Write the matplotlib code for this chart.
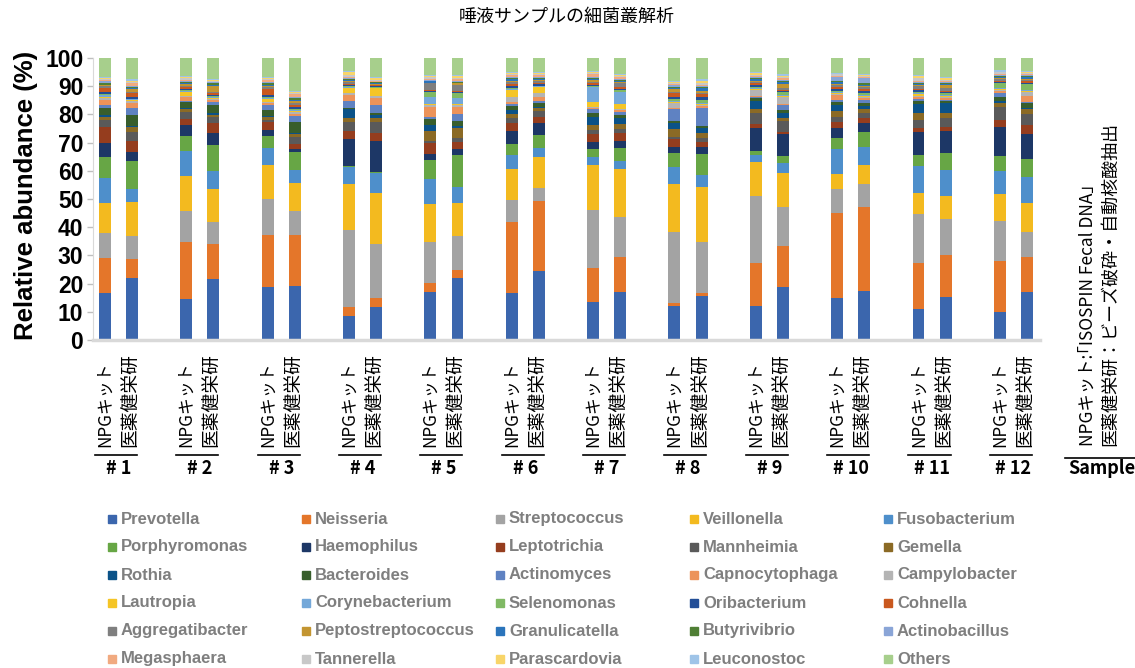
import numpy as np
import matplotlib
matplotlib.use("Agg")
import matplotlib.pyplot as plt
from matplotlib.patches import Rectangle

plt.rcParams['font.family'] = ['Liberation Sans', 'DejaVu Sans']
JP = ['Noto Sans CJK JP', 'DejaVu Sans']

# taxa in legend order (bottom of stack first)
taxa = ['Prevotella', 'Neisseria', 'Streptococcus', 'Veillonella', 'Fusobacterium',
        'Porphyromonas', 'Haemophilus', 'Leptotrichia', 'Mannheimia', 'Gemella',
        'Rothia', 'Bacteroides', 'Actinomyces', 'Capnocytophaga', 'Campylobacter',
        'Lautropia', 'Corynebacterium', 'Selenomonas', 'Oribacterium', 'Cohnella',
        'Aggregatibacter', 'Peptostreptococcus', 'Granulicatella', 'Butyrivibrio', 'Actinobacillus',
        'Megasphaera', 'Tannerella', 'Parascardovia', 'Leuconostoc', 'Others']

colors = ['#3b66ad', '#e4762a', '#a3a3a3', '#f3ba1f', '#4e8fcb',
          '#67a645', '#1d3766', '#953d1e', '#5a5a5a', '#8b6a25',
          '#0b5288', '#385e2c', '#5f82c2', '#ec935a', '#b4b4b4',
          '#f5c526', '#74a8d9', '#80b964', '#224e97', '#c9581e',
          '#7f7f7f', '#c39531', '#2a74bb', '#4f7f35', '#8aa5d7',
          '#f1aa80', '#c8c8c8', '#f8d569', '#9fc4e8', '#a7cf8c']

groups = ['# 1', '# 2', '# 3', '# 4', '# 5', '# 6', '# 7', '# 8', '# 9', '# 10', '# 11', '# 12']
methods = ['NPGキット', '医薬健栄研']

# relative abundance (%) per bar, legend order; "a" = NPGキット, "b" = 医薬健栄研
s1a = [16.8, 12.4, 8.7, 10.6, 8.9, 7.4, 5.2, 5.4, 2.6, 1.2, 0.6, 2.4, 1.0, 2.0, 0.7, 0.4, 0.5, 0.6, 0.5, 1.6, 0.4, 0.4, 0.3, 0.6, 0.5, 0.4, 0.4, 0.3, 0.5, 6.7]
s1b = [22.1, 6.5, 8.4, 12.1, 4.3, 10.1, 3.0, 4.1, 3.3, 1.5, 0.5, 3.9, 2.6, 1.8, 0.5, 0.3, 0.3, 0.3, 0.5, 1.5, 0.5, 0.8, 0.3, 0.5, 0.4, 1.0, 0.5, 0.3, 0.5, 7.6]
s2a = [14.5, 20.4, 10.8, 12.6, 8.6, 5.3, 3.9, 2.2, 2.6, 0.9, 0.5, 2.0, 0.5, 1.2, 0.5, 1.5, 0.3, 0.3, 0.4, 0.8, 0.4, 0.5, 0.3, 0.5, 0.3, 0.3, 0.8, 0.3, 0.3, 6.5]
s2b = [21.3, 12.6, 7.6, 11.5, 6.3, 9.3, 4.1, 3.7, 2.1, 0.8, 0.4, 2.8, 1.2, 0.6, 0.5, 0.3, 0.3, 0.4, 0.3, 0.8, 0.5, 2.0, 0.4, 0.5, 0.3, 0.3, 0.3, 0.3, 0.3, 7.4]
s3a = [18.6, 18.3, 13.0, 11.9, 5.9, 4.2, 2.2, 2.7, 1.0, 0.8, 0.6, 2.0, 1.8, 0.5, 0.6, 0.8, 0.5, 0.4, 0.8, 2.0, 0.5, 0.5, 0.5, 0.6, 0.4, 0.6, 0.4, 0.3, 0.3, 6.8]
s3b = [19.3, 17.9, 8.4, 10.2, 4.5, 6.2, 1.1, 1.9, 2.4, 1.1, 0.5, 3.9, 2.1, 0.6, 0.6, 0.4, 0.4, 0.4, 0.8, 0.8, 0.5, 0.6, 0.5, 0.6, 0.4, 1.2, 0.3, 0.3, 0.3, 11.8]
s4a = [8.6, 3.2, 27.2, 16.3, 6.2, 0.3, 9.4, 2.8, 3.2, 1.4, 3.2, 0.5, 2.6, 1.9, 0.8, 1.8, 0.3, 0.3, 0.5, 0.4, 0.5, 0.4, 0.5, 0.4, 0.3, 0.4, 0.5, 1.2, 0.3, 4.6]
s4b = [11.8, 3.2, 18.9, 18.1, 7.1, 0.6, 11.0, 2.6, 4.0, 1.3, 1.2, 0.8, 2.7, 2.4, 0.7, 2.8, 0.2, 0.2, 0.4, 0.3, 0.3, 0.3, 0.2, 0.3, 0.2, 0.4, 0.3, 0.5, 0.3, 6.9]
s5a = [16.9, 3.2, 14.8, 13.3, 8.8, 6.8, 2.2, 3.7, 1.0, 3.4, 2.1, 2.1, 0.9, 3.3, 0.8, 0.5, 2.5, 1.6, 0.4, 0.5, 2.2, 0.3, 0.4, 0.3, 0.3, 0.3, 0.6, 0.3, 0.5, 6.0]
s5b = [22.1, 2.7, 12.2, 11.7, 5.7, 11.1, 2.1, 2.7, 1.4, 3.4, 0.8, 1.9, 2.3, 2.4, 0.8, 0.5, 2.0, 1.9, 0.3, 0.3, 2.3, 0.4, 0.3, 0.3, 0.3, 0.5, 0.5, 0.8, 0.3, 6.0]
s6a = [16.5, 25.2, 7.9, 10.9, 5.1, 3.9, 4.6, 2.7, 1.8, 1.4, 1.6, 1.4, 0.6, 0.8, 1.9, 2.4, 0.3, 0.3, 0.8, 0.8, 0.5, 0.5, 0.6, 0.3, 0.3, 0.8, 0.4, 0.3, 0.3, 5.1]
s6b = [24.6, 24.7, 4.7, 10.8, 3.4, 4.5, 4.4, 2.1, 2.1, 0.9, 0.6, 1.4, 0.5, 1.6, 1.4, 1.9, 0.3, 0.3, 0.6, 0.4, 0.5, 0.4, 0.4, 0.4, 0.3, 0.8, 0.3, 0.3, 0.3, 5.1]
s7a = [13.4, 12.0, 20.5, 15.9, 3.0, 2.8, 2.4, 2.7, 1.4, 1.8, 2.9, 1.2, 1.6, 0.3, 0.3, 1.7, 5.3, 0.4, 0.5, 0.7, 0.5, 0.4, 0.6, 0.4, 0.3, 0.8, 0.4, 0.4, 0.3, 4.7]
s7b = [17.1, 12.5, 14.1, 16.9, 2.9, 4.5, 2.7, 2.8, 1.2, 1.9, 2.0, 1.2, 1.2, 0.5, 0.4, 1.8, 4.4, 0.5, 0.4, 0.8, 1.2, 0.5, 0.5, 0.3, 0.3, 0.8, 0.3, 0.4, 0.3, 5.6]
s8a = [12.2, 0.8, 25.4, 16.9, 6.2, 4.7, 2.4, 2.6, 0.9, 2.6, 2.1, 1.0, 4.0, 0.5, 1.6, 0.5, 0.5, 0.4, 0.8, 1.5, 0.5, 0.8, 0.5, 0.4, 0.5, 0.4, 0.4, 0.4, 0.5, 8.0]
s8b = [15.6, 1.2, 18.1, 19.5, 4.1, 7.3, 2.8, 1.7, 1.2, 2.0, 1.6, 0.8, 6.5, 0.5, 0.4, 0.3, 0.4, 1.1, 1.2, 0.8, 0.5, 0.8, 0.8, 0.5, 0.4, 0.5, 0.5, 0.6, 0.9, 7.4]
s9a = [12.1, 15.1, 24.0, 11.9, 2.4, 1.6, 8.0, 1.5, 3.8, 1.4, 3.1, 1.0, 0.3, 0.4, 2.0, 0.3, 0.4, 0.5, 0.8, 0.4, 0.6, 0.4, 0.6, 0.3, 0.3, 0.3, 0.3, 0.8, 0.3, 5.1]
s9b = [18.7, 14.8, 13.8, 12.0, 3.3, 2.6, 7.7, 1.0, 3.9, 1.0, 1.6, 1.2, 1.7, 0.4, 2.6, 0.3, 0.4, 0.8, 0.5, 0.5, 0.6, 1.5, 0.5, 0.4, 0.5, 0.5, 0.5, 0.4, 0.5, 5.8]
s10a = [14.9, 30.0, 8.5, 5.3, 8.9, 4.1, 3.4, 2.3, 1.8, 2.0, 2.1, 1.2, 0.5, 1.9, 0.5, 0.3, 0.3, 0.4, 0.5, 0.9, 0.6, 0.4, 0.6, 0.3, 1.5, 0.5, 0.5, 0.3, 0.3, 5.2]
s10b = [17.5, 29.8, 7.9, 6.9, 6.2, 5.3, 3.2, 2.0, 1.6, 1.4, 1.2, 0.9, 1.2, 0.6, 0.4, 0.3, 0.4, 0.9, 0.5, 0.8, 0.6, 0.4, 0.6, 0.4, 1.8, 0.4, 0.5, 0.3, 0.3, 5.7]
s11a = [11.0, 16.1, 17.3, 7.3, 9.8, 3.7, 8.2, 1.4, 2.7, 2.6, 3.2, 1.2, 0.7, 0.5, 0.4, 0.8, 0.3, 0.4, 0.6, 0.4, 1.0, 0.4, 0.5, 0.3, 0.3, 0.4, 0.8, 0.8, 0.3, 6.1]
s11b = [15.1, 14.8, 12.8, 8.0, 9.2, 6.1, 7.9, 1.2, 3.2, 1.8, 3.5, 0.6, 0.5, 0.6, 0.5, 0.4, 0.4, 0.4, 0.6, 0.4, 1.0, 0.8, 0.5, 0.4, 0.3, 0.4, 0.4, 0.6, 0.3, 6.8]
s12a = [10.0, 18.0, 14.2, 9.5, 8.1, 5.2, 10.4, 2.4, 4.7, 1.4, 0.6, 1.4, 1.6, 0.5, 0.4, 0.3, 0.4, 1.9, 0.3, 0.5, 0.5, 0.4, 0.4, 0.5, 0.3, 0.4, 0.4, 0.3, 0.4, 4.4]
s12b = [17.1, 12.5, 8.8, 10.1, 9.2, 6.5, 8.8, 3.2, 3.9, 1.7, 0.5, 1.6, 0.5, 2.0, 1.5, 0.3, 0.4, 2.2, 0.5, 0.5, 0.5, 0.4, 0.4, 0.4, 0.4, 0.4, 0.4, 0.3, 0.3, 4.7]

bars = [s1a, s1b, s2a, s2b, s3a, s3b, s4a, s4b, s5a, s5b, s6a, s6b,
        s7a, s7b, s8a, s8b, s9a, s9b, s10a, s10b, s11a, s11b, s12a, s12b]

data = np.array(bars, dtype=float)
data = data / data.sum(axis=1, keepdims=True) * 100  # each bar to 100 %

x = np.array([3 * g + k for g in range(len(groups)) for k in range(2)], dtype=float)

fig = plt.figure(figsize=(11.35, 6.68), dpi=100)
ax = fig.add_axes([93 / 1135, 1 - 340 / 668, (1040 - 93) / 1135, (340 - 58) / 668])

bottom = np.zeros(len(x))
for i, name in enumerate(taxa):
    ax.bar(x, data[:, i], 0.44, bottom=bottom, color=colors[i], label=name,
           edgecolor='none', zorder=2)
    bottom += data[:, i]

ax.set_xlim(-0.44, x[-1] + 0.48)
ax.set_ylim(0, 100)
ax.set_yticks(np.arange(0, 101, 10))
ax.set_xticks([])
ax.tick_params(axis='y', length=4, width=1, color='#bfbfbf', labelsize=16.5, pad=3)
for t in ax.get_yticklabels():
    t.set_fontweight('bold')
for s in ['top', 'right']:
    ax.spines[s].set_visible(False)
ax.spines['left'].set_color('#d9d9d9')
ax.spines['bottom'].set_color('#d9d9d9')
ax.spines['bottom'].set_linewidth(2.5)

fig.text(26 / 1135, 1 - 195 / 668, 'Relative abundance (%)', rotation=90,
         ha='center', va='center', fontsize=18.5, fontweight='bold')

fig.text(567 / 1135, 1 - 17 / 668, '唾液サンプルの細菌叢解析', ha='center', va='center',
         fontsize=13, family=JP)

# sample labels under the axis
trans = matplotlib.transforms.blended_transform_factory(ax.transData, fig.transFigure)
y_lab = 1 - 447 / 668
y_line = 1 - 455 / 668
y_grp = 1 - 469 / 668
lab_size = [12.2, 13.5]
for g, name in enumerate(groups):
    for k in range(2):
        ax.text(3 * g + k - 0.05 * k, y_lab, methods[k], transform=trans, rotation=90,
                rotation_mode='anchor', ha='left', va='center', fontsize=lab_size[k],
                family=JP, clip_on=False)
    ax.plot([3 * g - 0.37, 3 * g + 1.18], [y_line, y_line], transform=trans,
            color='black', lw=1.2, clip_on=False)
    ax.text(3 * g + 0.5, y_grp, name, transform=trans, ha='center', va='center',
            fontsize=13, fontweight='bold', family=JP)

# note on the right
fig.text(1088 / 1135, 1 - 446 / 668, 'NPGキット:｢ISOSPIN Fecal DNA｣', rotation=90,
         rotation_mode='anchor', ha='left', va='center', fontsize=12.5, family=JP)
fig.text(1111 / 1135, 1 - 446 / 668, '医薬健栄研：ビーズ破砕・自動核酸抽出', rotation=90,
         rotation_mode='anchor', ha='left', va='center', fontsize=13, family=JP)
fig.add_artist(plt.Line2D([1065 / 1135, 1.0], [1 - 458 / 668, 1 - 458 / 668],
                          color='black', lw=1.2))
fig.text(1102 / 1135, 1 - 469 / 668, 'Sample', ha='center', va='center',
         fontsize=13, fontweight='bold', family=JP)

# legend, 5 columns filled row by row
for i, name in enumerate(taxa):
    col, row = i % 5, i // 5
    cx = (112 + 194 * col) / 1135
    cy = 1 - (519 + 28 * row) / 668
    fig.add_artist(Rectangle((cx - 4 / 1135, cy - 4 / 668), 8 / 1135, 8 / 668,
                             transform=fig.transFigure, color=colors[i]))
    fig.text(cx + 9 / 1135, cy, name, ha='left', va='center', fontsize=12,
             fontweight='bold', color='#7f7f7f')

fig.savefig('out.png', dpi=100)
